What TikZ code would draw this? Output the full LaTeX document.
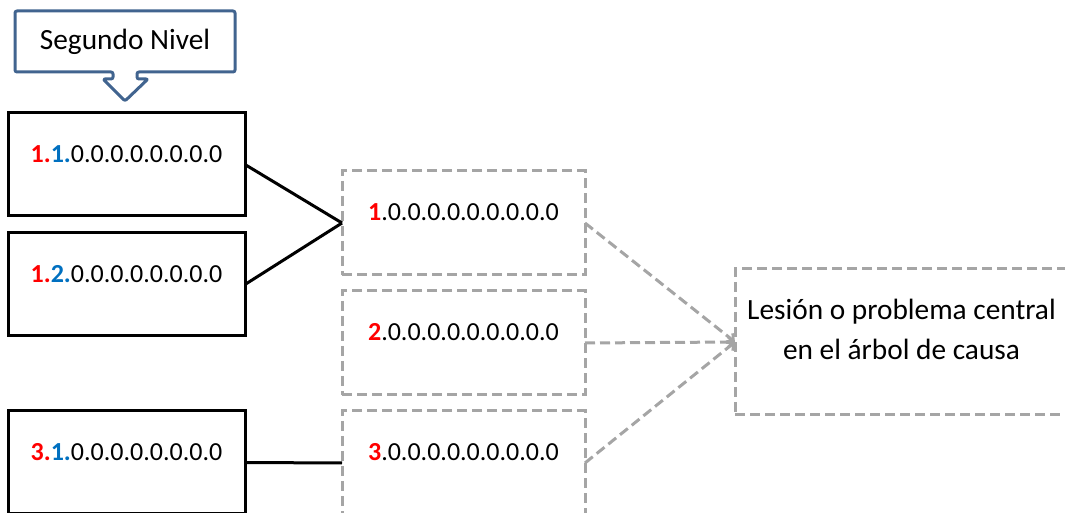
\documentclass[tikz,border=0pt]{standalone}
\usepackage{fontspec}
\setmainfont{Carlito}
\usetikzlibrary{arrows.meta}
\definecolor{causagris}{HTML}{A5A5A5}
\definecolor{nivelazul}{HTML}{41648F}
\definecolor{numrojo}{HTML}{FF0000}
\definecolor{numazul}{HTML}{0070C0}
\newcommand{\nrojo}[1]{\textcolor{numrojo}{\textbf{#1}}}
\newcommand{\nazul}[1]{\textcolor{numazul}{\textbf{#1}}}
\tikzset{
  segundo/.style={draw=black, line width=2.25pt, minimum width=177.75pt,
    inner xsep=0pt, inner ysep=0pt, outer sep=0pt,
    font=\fontsize{19.5pt}{24pt}\selectfont,
    text height=37.5pt, text depth=39.75pt, anchor=north west},
  primero/.style={draw=causagris, line width=2.25pt, dash pattern=on 7.5pt off 3.75pt,
    minimum width=182.25pt, inner xsep=0pt, inner ysep=0pt, outer sep=0pt,
    font=\fontsize{19.5pt}{24pt}\selectfont,
    text height=37.5pt, text depth=40.5pt, anchor=north west},
  central/.style={draw=causagris, line width=2.25pt, dash pattern=on 7.5pt off 3.75pt,
    minimum width=249.75pt, inner ysep=0pt, outer sep=0pt,
    text height=38.25pt, text depth=71.25pt, anchor=north west},
  linea/.style={draw=black, line width=2.25pt},
  flecha/.style={draw=causagris, line width=2.25pt, dash pattern=on 7.5pt off 3.75pt,
    -{Straight Barb[length=4pt,width=8pt,line width=2pt]}},
}
\begin{document}
\begin{tikzpicture}[x=0.75pt,y=-0.75pt,font=\fontsize{22pt}{30pt}\selectfont]
\useasboundingbox (0,0) rectangle (1065,513);
\clip (0,0) rectangle (1065,513);
% etiqueta del nivel
\draw[nivelazul, line width=2.25pt, line join=round, rounded corners=1.5pt]
  (15,11) -- (235,11) -- (235,72) -- (137,72) -- (137,79) -- (148,79) -- (125,101)
  -- (103,79) -- (113,79) -- (113,72) -- (15,72) -- cycle;
\node (nivel) [anchor=base] at (125,50) {Segundo Nivel} ;
% segundo nivel
\node (s11) [segundo] at (8,113) {\nrojo{1.}\nazul{1.}0.0.0.0.0.0.0.0} ;
\node (s12) [segundo] at (8,233) {\nrojo{1.}\nazul{2.}0.0.0.0.0.0.0.0} ;
\node (s31) [segundo] at (8,411) {\nrojo{3.}\nazul{1.}0.0.0.0.0.0.0.0} ;
% primer nivel
\node (c1) [primero] at (342,171) {\nrojo{1}.0.0.0.0.0.0.0.0.0} ;
\node (c2) [primero] at (342,291) {\nrojo{2}.0.0.0.0.0.0.0.0.0} ;
\node (c3) [primero] at (342,411) {\nrojo{3}.0.0.0.0.0.0.0.0.0} ;
% problema central
\node (lesion) [central] at (735,269)
  {\begin{tabular}[t]{@{}c@{}}Lesión o problema central\\en el árbol de causa\end{tabular}} ;
\draw[linea] (s11.east) to (c1.west) ;
\draw[linea] (s12.east) to (c1.west) ;
\draw[linea] (s31.east) to (c3.west) ;
\draw[flecha] (c1.east) to (lesion.west) ;
\draw[flecha] (c2.east) to (lesion.west) ;
\draw[flecha] (c3.east) to (lesion.west) ;
\end{tikzpicture}
\end{document}
